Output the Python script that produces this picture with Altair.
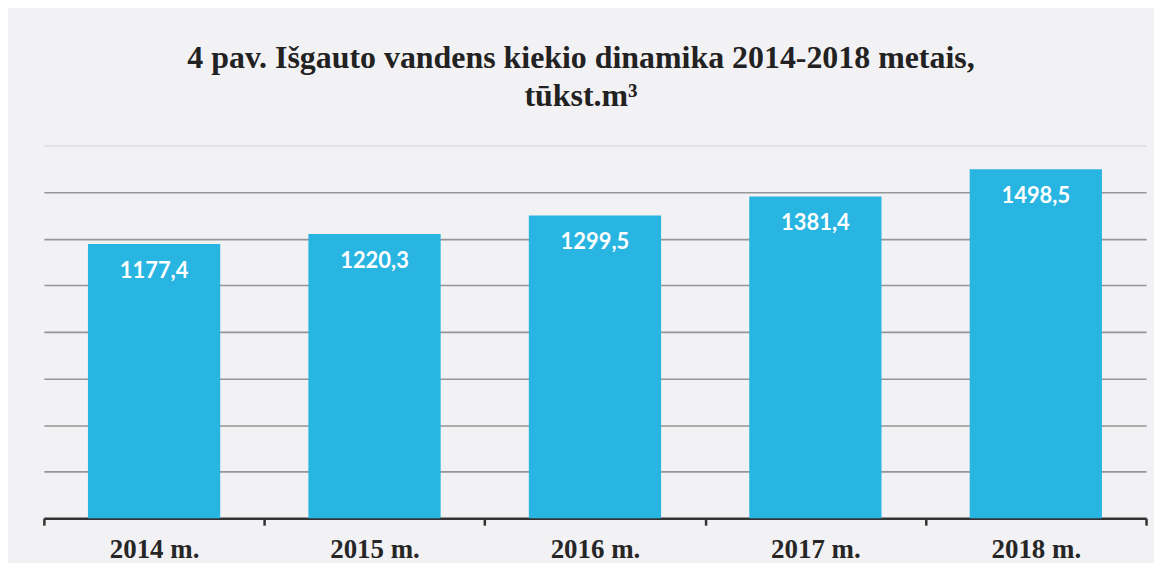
import altair as alt
import pandas as pd

years = ["2014 m.", "2015 m.", "2016 m.", "2017 m.", "2018 m."]
values = [1177.4, 1220.3, 1299.5, 1381.4, 1498.5]
y_ticks = [0, 200, 400, 600, 800, 1000, 1200, 1400, 1600]

title_lines = ["4 pav. Išgauto vandens kiekio dinamika 2014-2018 metais,", "tūkst.m³"]

df = pd.DataFrame({"year": years, "value": values})

BAR = "#29B5E1"

x_enc = alt.X(
    "year:N",
    sort=years,
    title=None,
    scale=alt.Scale(paddingInner=0, paddingOuter=0),
    axis=alt.Axis(
        labelAngle=0,
        labelFont="Liberation Serif",
        labelFontWeight="bold",
        labelFontSize=27,
        labelColor="#262626",
        labelPadding=11,
        domainColor="#333333",
        domainWidth=2.5,
        tickColor="#333333",
        tickWidth=2.5,
        tickSize=7,
        tickBand="extent",
        grid=False,
    ),
)

y_enc = alt.Y(
    "value:Q",
    title=None,
    scale=alt.Scale(domain=[0, 1600], nice=False),
    axis=alt.Axis(
        values=y_ticks,
        labels=False,
        ticks=False,
        domain=False,
        grid=True,
        gridColor=alt.condition("datum.value == 1600", alt.value("#dcdbe0"), alt.value("#959595")),
        gridWidth=1.6,
    ),
)

base = alt.Chart(df)

bars = base.mark_bar(color=BAR, width=alt.RelativeBandSize(0.6)).encode(x=x_enc, y=y_enc)

labels = base.transform_calculate(
    label="replace(format(datum.value, '.1f'), '.', ',')"
).mark_text(
    font="Lato",
    fontWeight="bold",
    fontSize=22,
    color="white",
    baseline="middle",
    dy=27,
).encode(x=alt.X("year:N", sort=years), y=alt.Y("value:Q"), text="label:N")

chart = (
    alt.layer(bars, labels)
    .properties(
        width=1106,
        height=374,
        padding={"left": 34, "right": 6, "top": 33, "bottom": 0},
        background="#F2F1F4",
        title=alt.TitleParams(
            text=title_lines,
            font="Liberation Serif",
            fontWeight="bold",
            fontSize=32,
            lineHeight=38,
            color="#222222",
            anchor="middle",
            dx=-14,
            offset=33,
        ),
    )
    .configure_view(stroke=None)
)

chart.save("out.html", embed_options={"renderer": "svg", "actions": False})
